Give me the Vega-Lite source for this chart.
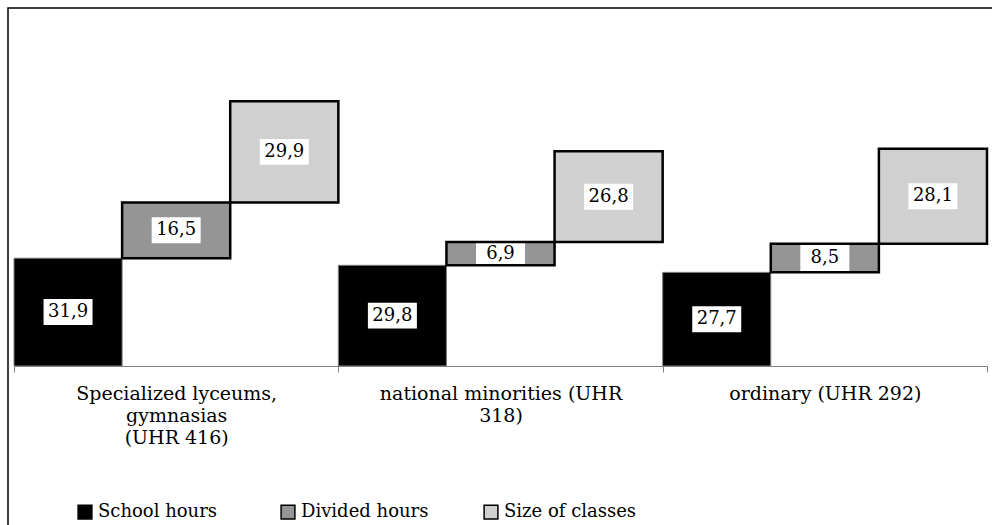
{
  "$schema": "https://vega.github.io/schema/vega-lite/v6.json",
  "width": 992,
  "height": 525,
  "autosize": {"type": "none"},
  "padding": {"left": 8, "top": 8, "right": -8, "bottom": -8},
  "config": {
    "locale": {"number": {"decimal": ",", "thousands": ".", "grouping": [3], "currency": ["", ""]}},
    "view": {"stroke": "#000000", "strokeWidth": 1.5},
    "font": "DejaVu Serif"
  },
  "data": {
    "values": [
      {"category": "Specialized lyceums, gymnasias (UHR 416)", "series": "School hours", "order": 1, "value": 31.9},
      {"category": "Specialized lyceums, gymnasias (UHR 416)", "series": "Divided hours", "order": 2, "value": 16.5},
      {"category": "Specialized lyceums, gymnasias (UHR 416)", "series": "Size of classes", "order": 3, "value": 29.9},
      {"category": "national minorities (UHR 318)", "series": "School hours", "order": 1, "value": 29.8},
      {"category": "national minorities (UHR 318)", "series": "Divided hours", "order": 2, "value": 6.9},
      {"category": "national minorities (UHR 318)", "series": "Size of classes", "order": 3, "value": 26.8},
      {"category": "ordinary (UHR 292)", "series": "School hours", "order": 1, "value": 27.7},
      {"category": "ordinary (UHR 292)", "series": "Divided hours", "order": 2, "value": 8.5},
      {"category": "ordinary (UHR 292)", "series": "Size of classes", "order": 3, "value": 28.1}
    ]
  },
  "transform": [
    {"stack": "value", "groupby": ["category"], "sort": [{"field": "order", "order": "ascending"}], "as": ["y0", "y1"]}
  ],
  "encoding": {
    "x": {
      "field": "category",
      "type": "nominal",
      "sort": ["Specialized lyceums, gymnasias (UHR 416)", "national minorities (UHR 318)", "ordinary (UHR 292)"],
      "scale": {"range": [6, 979], "paddingInner": 0, "paddingOuter": 0},
      "axis": {
        "title": null,
        "orient": "bottom",
        "offset": -167,
        "grid": false,
        "domainColor": "#808080",
        "domainWidth": 1,
        "tickColor": "#808080",
        "tickSize": 6,
        "tickBand": "extent",
        "labelAngle": 0,
        "labelFont": "DejaVu Serif",
        "labelFontSize": 19,
        "labelColor": "#000000",
        "labelPadding": 12,
        "labelLimit": 0,
        "labelLineHeight": 22,
        "labelExpr": "datum.value == 'Specialized lyceums, gymnasias (UHR 416)' ? ['Specialized lyceums,', 'gymnasias', '(UHR 416)'] : datum.value == 'national minorities (UHR 318)' ? ['national minorities (UHR', '318)'] : datum.value"
      }
    },
    "xOffset": {
      "field": "series",
      "type": "nominal",
      "sort": ["School hours", "Divided hours", "Size of classes"],
      "scale": {"paddingInner": 0, "paddingOuter": 0}
    }
  },
  "layer": [
    {
      "mark": {"type": "bar", "strokeWidth": 0},
      "encoding": {
        "y": {"field": "y1", "type": "quantitative", "scale": {"domain": [0, 100], "range": [358, 20], "nice": false, "zero": false}, "axis": null},
        "y2": {"field": "y0"},
        "fill": {
          "field": "series",
          "type": "nominal",
          "scale": {"domain": ["School hours", "Divided hours", "Size of classes"], "range": ["#000000", "#959595", "#d0d0d0"]},
          "legend": {
            "orient": "none",
            "legendX": 68,
            "legendY": 495,
            "direction": "horizontal",
            "gridAlign": "all",
            "title": null,
            "symbolType": "square",
            "symbolSize": 190,
            "symbolStrokeColor": "#000000",
            "symbolStrokeWidth": 1.5,
            "labelFont": "DejaVu Serif",
            "labelFontSize": 18,
            "labelColor": "#000000",
            "labelOffset": 4,
            "columnPadding": 47,
            "labelLimit": 0
          }
        }
      }
    },
    {
      "transform": [{"fold": ["y0", "y1"], "as": ["k", "v"]}],
      "mark": {"type": "point", "shape": "M-1,-0.53L1,-0.53L1,0.53L-1,0.53Z", "size": 2401, "filled": true, "fill": "#ffffff", "opacity": 1, "strokeWidth": 0},
      "encoding": {
        "y": {"aggregate": "mean", "field": "v", "type": "quantitative", "axis": null}
      }
    },
    {
      "mark": {"type": "bar", "fill": null, "fillOpacity": 0},
      "encoding": {
        "y": {"field": "y1", "type": "quantitative", "axis": null},
        "y2": {"field": "y0"},
        "stroke": {"condition": {"test": "datum.series === 'School hours'", "value": "#808080"}, "value": "#000000"},
        "strokeWidth": {"condition": {"test": "datum.series === 'School hours'", "value": 1}, "value": 2.5}
      }
    },
    {
      "transform": [{"fold": ["y0", "y1"], "as": ["k", "v"]}],
      "mark": {"type": "text", "fontSize": 18, "font": "DejaVu Serif", "align": "center", "baseline": "middle", "color": "#000000"},
      "encoding": {
        "y": {"aggregate": "mean", "field": "v", "type": "quantitative", "axis": null},
        "text": {"field": "value", "type": "quantitative", "format": ".1f"}
      }
    }
  ]
}
